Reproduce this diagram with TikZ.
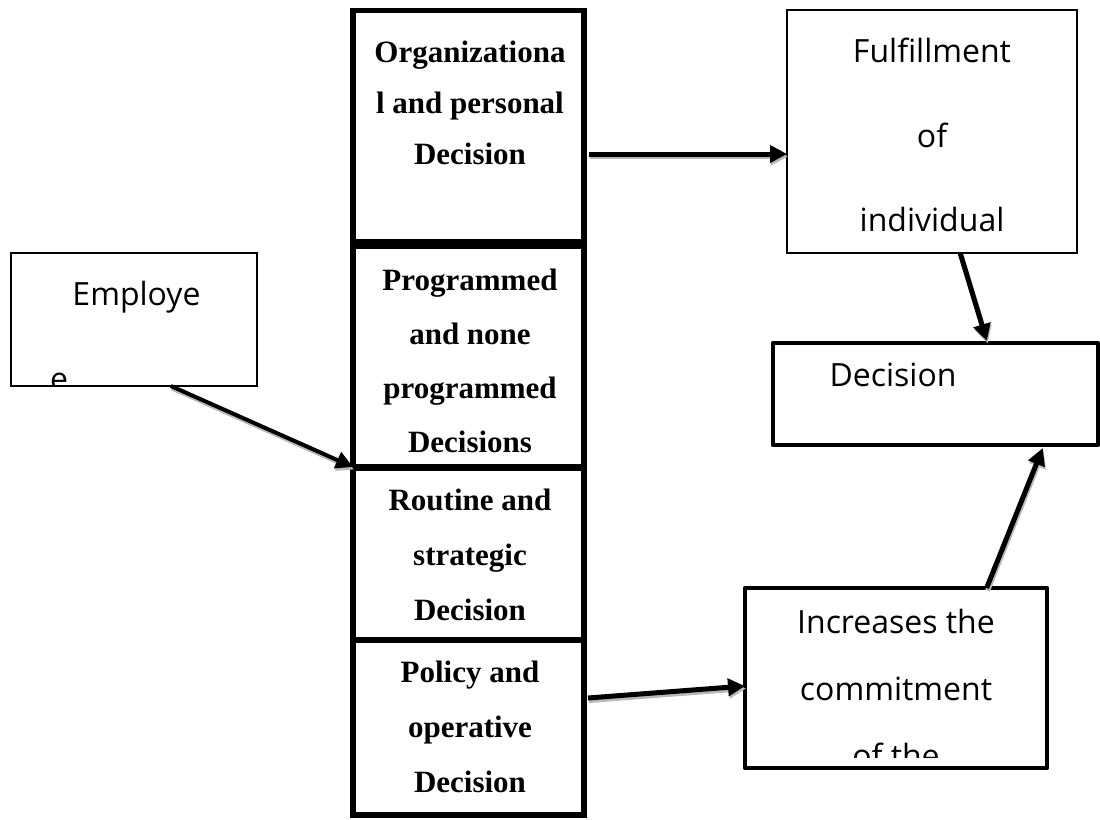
\documentclass[tikz,border=0pt]{standalone}
\usepackage{fontspec}
\setmainfont{Liberation Serif}
\newfontfamily\handfont{Open Sans}
\usetikzlibrary{arrows.meta,calc}
\begin{document}
\begin{tikzpicture}[x=1pt,y=-1pt,
  boldtxt/.style={font=\bfseries\fontsize{31}{#1}\selectfont, align=center, inner sep=0pt},
  handtxt/.style={font=\handfont\fontsize{32}{#1}\selectfont, align=center, inner sep=0pt},
  thinbox/.style={draw, line width=2pt, inner sep=0pt, outer sep=0pt},
  thickbox/.style={draw, line width=4.5pt, line join=round, inner sep=0pt, outer sep=0pt},
  colbox/.style={draw, line width=5.5pt, inner sep=0pt, outer sep=0pt},
  arr/.style={line width=#1, -{Triangle[length=17pt,width=17pt]},
    preaction={draw=black!28, line width=#1, transform canvas={shift={(1pt,-2.5pt)}}}},
  arr/.default=5pt
]
\useasboundingbox (0,0) rectangle (1100,819);

% central column
\node[colbox, minimum width=231pt, minimum height=233.5pt] (org)  at (468.5,127.25) {};
\node[colbox, minimum width=231pt, minimum height=223pt]   (prog) at (468.5,355.5) {};
\node[colbox, minimum width=231pt, minimum height=173pt]   (rout) at (468.5,553.5) {};
\node[colbox, minimum width=231pt, minimum height=175pt]   (pol)  at (468.5,727.5) {};
\draw[line width=10pt] (org.south west) -- (org.south east);
\draw[line width=7pt] (prog.south west) -- (prog.south east);
\draw[line width=4pt] (rout.south west) -- (rout.south east);

\node[boldtxt=51] (orgtxt) at (470,102.5) {Organizationa\\l and personal\\Decision};
\node[boldtxt=54] (progtxt) at (470,360.7) {Programmed\\and none\\programmed\\Decisions};
\node[boldtxt=55] (routtxt) at (470,554.7) {Routine and\\strategic\\Decision};
\node[boldtxt=55] (poltxt) at (470,726.7) {Policy and\\operative\\Decision};

% employee
\node[thinbox, minimum width=246pt, minimum height=133pt] (emp) at (134,319.5) {};
\node[handtxt=84, anchor=base] (emptxt) at (136.5,305) {Employe};
\begin{scope}
  \clip (12,254) rectangle (256,385);
  \node[handtxt=84, anchor=base] (emptxtb) at (59,390) {e};
\end{scope}

% right side
\node[thinbox, minimum width=290pt, minimum height=243pt] (fulfill) at (932,131.5) {};
\node[handtxt=84.5] (fultxt) at (932,135.4) {Fulfillment\\of\\individual};

\node[thickbox, minimum width=325pt, minimum height=102pt] (dec) at (935.5,394) {};
\node[handtxt=40, anchor=base] (dectxt) at (893,386) {Decision};

\node[thickbox, minimum width=302pt, minimum height=180pt] (inc) at (896,678) {};
\begin{scope}
  \clip (748,591) rectangle (1044,757);
  \node[handtxt=67] (inctxt) at (896,688.9) {Increases the\\commitment\\of the};
\end{scope}

% connectors
\draw[arr] ($(org.north east)+(5,143.5)$) -- ($(fulfill.north west)+(0,144)$);
\draw[arr=4pt] ($(emp.south west)!0.65!(emp.south east)$) -- (prog.south west);
\draw[arr] ($(fulfill.south west)!0.597!(fulfill.south east)$) -- ($(dec.north west)!0.658!(dec.north east)+(0,-2)$);
\draw[arr] ($(inc.north west)!0.8!(inc.north east)$) -- ($(dec.south west)!0.83!(dec.south east)+(0,3)$);
\draw[arr] ($(pol.north east)+(4,58)$) -- ($(inc.north west)+(0,98)$);
\end{tikzpicture}
\end{document}
